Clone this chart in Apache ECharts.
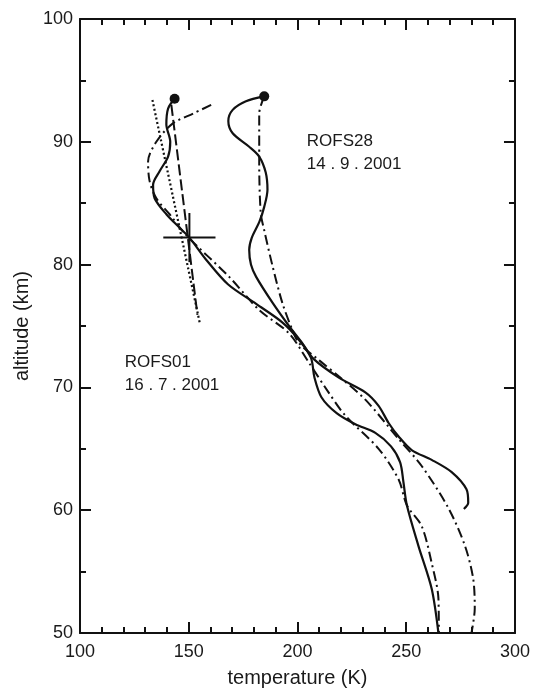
<!DOCTYPE html>
<html>
<head>
<meta charset="utf-8">
<script src="https://cdn.jsdelivr.net/npm/echarts@6/dist/echarts.min.js"></script>
<style>
  html, body { margin: 0; padding: 0; background: #fff; }
  #chart { width: 533px; height: 695px; }
</style>
</head>
<body>
<div id="chart"></div>
<script>
// Temperature profiles: each point is [temperature (K), altitude (km)]

// ROFS01, 16.7.2001
const rofs01Solid = [
  [143.5, 93.5], [140.5, 92.7], [139.7, 91.4], [141.5, 90.0], [140.5, 88.8],
  [136.6, 87.6], [133.6, 86.5], [134.3, 85.4], [139.7, 84.1], [145.8, 83.0],
  [150.3, 82.2], [158.0, 80.4], [168.0, 78.4], [181.0, 76.8], [193.0, 75.3],
  [201.0, 73.8], [206.2, 72.4], [207.8, 70.8], [211.0, 69.2], [218.0, 67.9],
  [226.6, 67.0], [235.8, 66.3], [243.0, 65.2], [247.2, 63.9], [248.7, 62.3],
  [250.3, 60.4], [255.6, 57.1], [261.7, 53.6], [264.8, 50.0]
];
const rofs01DashDot = [
  [160.3, 93.0], [152.0, 92.3], [142.7, 91.5], [135.1, 90.0], [131.3, 88.4],
  [132.0, 86.8], [135.1, 85.4], [141.2, 84.1], [148.8, 82.4], [168.6, 79.0],
  [182.4, 76.3], [196.1, 74.4], [205.3, 72.0], [213.5, 69.8], [222.0, 67.7],
  [237.3, 65.0], [246.5, 62.5], [250.3, 60.4], [257.1, 58.7], [261.7, 55.7],
  [264.8, 52.8], [265.0, 50.0]
];
const rofs01Dotted = [[133.3, 93.4], [155.0, 75.3]];
const rofs01Dashed = [[142.0, 93.0], [154.0, 75.9]];
// error cross: centre, temperature half-width, altitude half-height
const crossCentre = [150.3, 82.2];
const crossHalfT = 12;
const crossHalfAlt = 2;

// ROFS28, 14.9.2001
const rofs28Solid = [
  [184.7, 93.7], [176.3, 93.3], [170.2, 92.6], [168.2, 91.7], [170.2, 90.7],
  [177.8, 89.6], [182.4, 88.8], [185.4, 87.5], [186.2, 86.1], [184.7, 84.7],
  [182.5, 83.5], [179.0, 82.2], [177.8, 81.2], [178.6, 80.0], [181.0, 79.0],
  [188.5, 76.9], [196.1, 75.0], [202.2, 73.6], [207.5, 72.3], [219.0, 70.8],
  [231.2, 69.6], [237.3, 68.5], [241.9, 67.1], [246.5, 66.0], [252.5, 64.9],
  [261.7, 64.1], [270.9, 63.1], [277.7, 61.7], [278.5, 60.6], [276.5, 60.1]
];
const rofs28DashDot = [
  [184.7, 93.7], [182.4, 92.3], [182.4, 88.3], [183.1, 84.2], [184.7, 82.8],
  [188.5, 79.9], [193.0, 76.9], [197.6, 74.7], [200.7, 73.6], [210.0, 72.2],
  [219.0, 70.9], [231.2, 69.0], [246.5, 65.8], [257.1, 63.6], [269.3, 60.2],
  [277.0, 57.1], [280.8, 54.4], [281.5, 52.0], [280.0, 50.0]
];

// flight labels: text block anchored at [temperature, altitude]
const flightNames = ['ROFS28', 'ROFS01'];
const flightDates = ['14 . 9 . 2001', '16 . 7 . 2001'];
const flightLabelPos = [[204.3, 89.1], [120.6, 71.1]];

// axes
const tempRange = [100, 300];
const altRange = [50, 100];

const INK = '#111';
const TEXT = '#1a1a1a';
const FONT = '"Liberation Sans", Arial, sans-serif';

function profile(data, dash, width) {
  return {
    type: 'line',
    data: data,
    showSymbol: false,
    smooth: 0.3,
    silent: true,
    lineStyle: { color: INK, width: width || 2, type: dash || 'solid', cap: 'butt' },
    z: 3
  };
}

const crossH = [[crossCentre[0] - crossHalfT, crossCentre[1]], [crossCentre[0] + crossHalfT, crossCentre[1]]];
const crossV = [[crossCentre[0], crossCentre[1] + crossHalfAlt], [crossCentre[0], crossCentre[1] - crossHalfAlt]];

const dashDot = [10, 4, 2, 4];

function frameAxis(pos, isX, showLabels) {
  return {
    type: 'value',
    position: pos,
    min: isX ? tempRange[0] : altRange[0],
    max: isX ? tempRange[1] : altRange[1],
    interval: isX ? 50 : 10,
    axisLine: { show: true, onZero: false, lineStyle: { color: INK, width: 2 } },
    axisTick: { show: true, inside: true, length: 11, lineStyle: { color: INK, width: 2 } },
    minorTick: { show: true, splitNumber: isX ? 5 : 2, length: 6, lineStyle: { color: INK, width: 2 } },
    splitLine: { show: false },
    axisLabel: {
      show: showLabels,
      color: TEXT,
      fontSize: 18,
      fontFamily: FONT,
      margin: isX ? 10 : 7
    }
  };
}

const xBottom = frameAxis('bottom', true, true);
xBottom.name = 'temperature (K)';
xBottom.nameLocation = 'middle';
xBottom.nameGap = 35;
xBottom.nameTextStyle = { color: TEXT, fontSize: 20, fontFamily: FONT };

const yLeft = frameAxis('left', false, true);
yLeft.name = 'altitude (km)';
yLeft.nameLocation = 'middle';
yLeft.nameGap = 32;
yLeft.nameTextStyle = { color: TEXT, fontSize: 20, fontFamily: FONT };

const option = {
  animation: false,
  backgroundColor: '#fff',
  grid: { left: 80, right: 16, top: 19, bottom: 62 },
  xAxis: [xBottom, frameAxis('top', true, false)],
  yAxis: [yLeft, frameAxis('right', false, false)],
  series: [
    profile(rofs01Solid, 'solid', 2.2),
    profile(rofs01DashDot, dashDot, 2),
    profile(rofs01Dotted, [2, 2.5], 2.2),
    profile(rofs01Dashed, [11, 4], 2),
    profile(crossH, 'solid', 2),
    profile(crossV, 'solid', 2),
    profile(rofs28Solid, 'solid', 2.2),
    profile(rofs28DashDot, dashDot, 2),
    {
      type: 'scatter',
      data: [rofs01Solid[0], rofs28Solid[0]],
      symbol: 'circle',
      symbolSize: 10,
      itemStyle: { color: INK, opacity: 1 },
      silent: true,
      z: 4
    },
    {
      type: 'scatter',
      data: flightLabelPos.map((p, i) => ({ value: p, name: flightNames[i] + '\n' + flightDates[i] })),
      symbolSize: 0,
      silent: true,
      itemStyle: { opacity: 1 },
      label: {
        show: true,
        position: [0, 0],
        align: 'left',
        verticalAlign: 'middle',
        formatter: (p) => p.name,
        color: TEXT,
        opacity: 1,
        fontSize: 17,
        lineHeight: 23,
        fontFamily: FONT
      }
    }
  ]
};

const chart = echarts.init(document.getElementById('chart'), null, { renderer: 'canvas' });
chart.setOption(option);
</script>
</body>
</html>
